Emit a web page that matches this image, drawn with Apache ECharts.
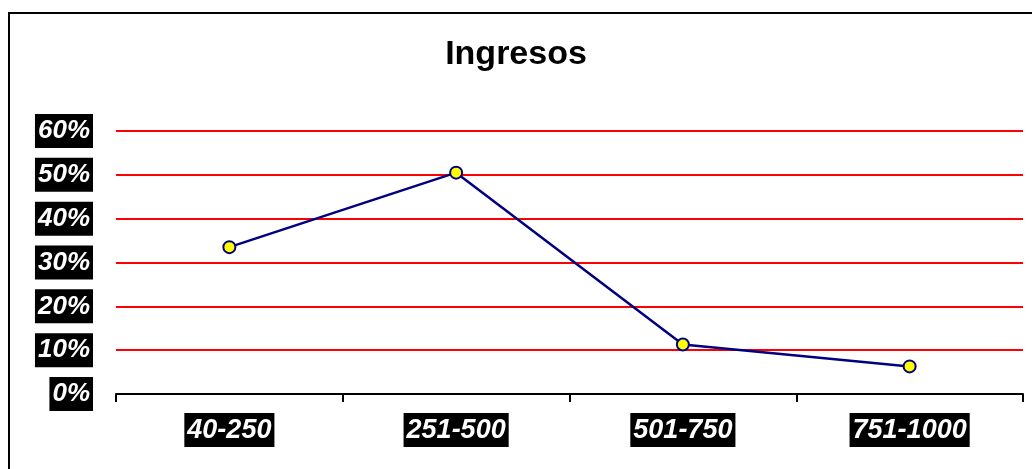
<!DOCTYPE html>
<html>
<head>
<meta charset="utf-8">
<script src="https://cdn.jsdelivr.net/npm/echarts@6/dist/echarts.min.js"></script>
<style>
  html, body { margin: 0; padding: 0; background: #fff; }
  #chart { width: 1032px; height: 469px; }
</style>
</head>
<body>
<div id="chart"></div>
<script>
// categorías de ingresos
const categories = ["40-250", "251-500", "501-750", "751-1000"];
// porcentaje por categoría
const ingresos = [33.5, 50.5, 11.3, 6.3];
const yTicks = [0, 10, 20, 30, 40, 50, 60];

const chart = echarts.init(document.getElementById("chart"));

const labelBox = {
  color: "#fff",
  fontFamily: "Liberation Sans, Arial, sans-serif",
  fontSize: 26,
  fontWeight: "bold",
  fontStyle: "italic",
  backgroundColor: "#000",
  lineHeight: 28,
  padding: [4, 3, 2, 3],
};

const option = {
  backgroundColor: "#fff",
  animation: false,
  // marco exterior
  graphic: [
    {
      type: "rect",
      shape: { x: 9, y: 13, width: 1100, height: 500 },
      style: { fill: "none", stroke: "#000", lineWidth: 2 },
      silent: true,
    },
  ],
  title: {
    text: "Ingresos",
    left: "center",
    top: 33,
    textStyle: {
      fontFamily: "Liberation Sans, Arial, sans-serif",
      fontSize: 34,
      fontWeight: "bold",
      color: "#000",
    },
  },
  grid: { left: 116, right: 9, top: 131, bottom: 75 },
  xAxis: {
    type: "category",
    data: categories,
    boundaryGap: true,
    axisLine: { show: true, lineStyle: { color: "#000", width: 2 } },
    axisTick: { show: true, length: 8, lineStyle: { color: "#000", width: 2 } },
    axisLabel: Object.assign({ margin: 19 }, labelBox, { fontSize: 27 }),
    splitLine: { show: false },
  },
  yAxis: {
    type: "value",
    min: yTicks[0],
    max: yTicks[yTicks.length - 1],
    interval: 10,
    axisLine: { show: false },
    axisTick: { show: false },
    axisLabel: Object.assign({ margin: 23, formatter: "{value}%" }, labelBox),
    splitLine: { show: true, lineStyle: { color: "#ff0000", width: 2 } },
  },
  series: [
    {
      name: "Ingresos",
      type: "line",
      data: ingresos,
      symbol: "circle",
      symbolSize: 12,
      lineStyle: { color: "#000080", width: 2.5 },
      itemStyle: { color: "#ffff00", borderColor: "#000080", borderWidth: 2 },
    },
  ],
};

chart.setOption(option);
</script>
</body>
</html>
